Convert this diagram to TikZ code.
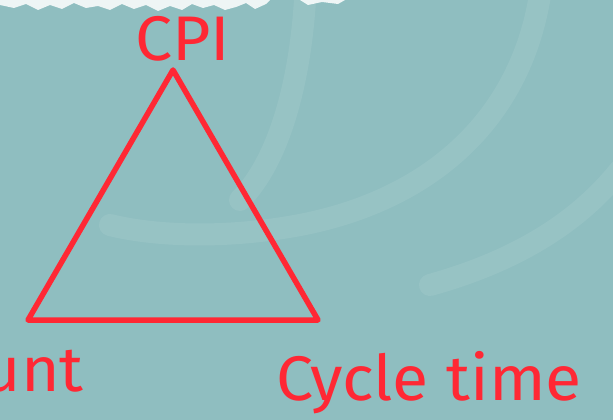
\documentclass[tikz,border=0pt]{standalone}
\usepackage{fontspec}
\setmainfont{Fira Sans}
\definecolor{bgteal}{RGB}{143,190,192}
\definecolor{lbl}{RGB}{255,40,52}
\tikzset{
  lbltext/.style={text=lbl, inner sep=0pt, font=\fontsize{63}{63}\selectfont, xscale=1.05},
  tri/.style={draw=lbl, line width=5.5pt, line join=round},
  glow/.style={draw=white, opacity=0.08, line width=22pt, line cap=round},
}
\begin{document}
\begin{tikzpicture}[x=1pt,y=-1pt]
\useasboundingbox (0,0) rectangle (613,420);
\fill[bgteal] (0,0) rectangle (613,420);
% faint light arcs
\draw[glow] (540,-5) .. controls (520,120) and (430,200) .. (300,225) .. controls (220,240) and (150,235) .. (110,225);
\draw[glow] (305,0) .. controls (300,80) and (280,160) .. (240,200);
\draw[glow] (620,170) .. controls (580,220) and (520,260) .. (430,285);
% ragged white band at top
\fill[white, opacity=0.85] (0,0) -- (270,0) -- (266,4) -- (255,9) -- (246,3) -- (236,7) -- (225,10) -- (214,5) -- (203,8) -- (192,4) -- (182,10) -- (170,6) -- (158,11) -- (146,5) -- (134,9) -- (122,4) -- (110,10) -- (98,6) -- (86,8) -- (74,3) -- (62,9) -- (50,5) -- (38,10) -- (26,4) -- (14,8) -- (0,5) -- cycle;
\fill[white, opacity=0.85] (300,0) -- (345,0) -- (338,4) -- (322,2) -- (308,5) -- cycle;
% triangle
\coordinate (apex) at (173,70);
\coordinate (bl) at (28,320);
\coordinate (br) at (318,320);
\draw[tri] (apex) -- (bl) -- (br) -- cycle;
% labels
\node[lbltext, anchor=base] (cpi) at (183,60) {CPI};
\node[lbltext, anchor=base west] (cyc) at (276,400) {Cycle time};
\node[lbltext, anchor=base east] (cnt) at (84,391) {unt};
\end{tikzpicture}
\end{document}
